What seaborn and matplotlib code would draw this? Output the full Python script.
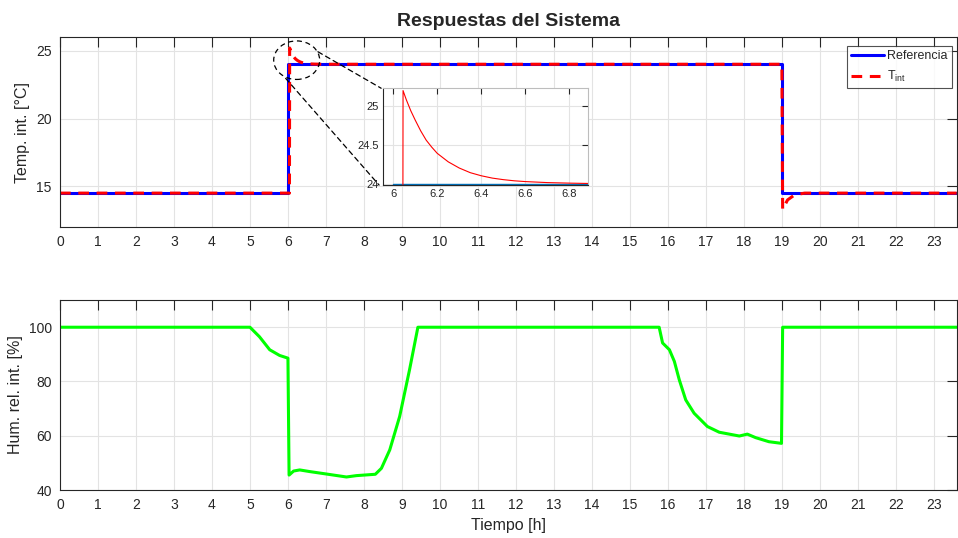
import numpy as np
import pandas as pd
import seaborn as sns
import matplotlib.pyplot as plt
from matplotlib.patches import Ellipse, ConnectionPatch

# Reference temperature (step set-point)
ref_t = [0, 6.0, 6.0, 19.0, 19.0, 23.6]
ref_T = [14.5, 14.5, 24.0, 24.0, 14.5, 14.5]

# Interior temperature
tint_t = [0, 6.04, 6.045, 6.06, 6.08, 6.1, 6.125, 6.15, 6.175, 6.2, 6.25, 6.3, 6.35, 6.4,
          6.45, 6.5, 6.55, 6.6, 6.7, 6.8, 6.9,
          19.0, 19.02, 19.15, 19.3, 19.45, 19.6, 23.6]
tint_T = [14.5, 14.5, 25.2, 25.08, 24.94, 24.82, 24.68, 24.56, 24.47, 24.39, 24.28, 24.2, 24.14, 24.1,
          24.07, 24.05, 24.035, 24.025, 24.012, 24.005, 24.0,
          24.0, 13.3, 14.0, 14.3, 14.43, 14.5, 14.5]

# Interior relative humidity
hum_t = [0, 5.0, 5.25, 5.52, 5.78, 6.0, 6.03, 6.15, 6.31, 6.57, 7.01, 7.54, 7.80, 8.30,
         8.46, 8.68, 8.94, 9.2, 9.42, 15.77, 15.86, 16.04, 16.17, 16.30, 16.47, 16.69,
         17.04, 17.35, 17.88, 18.09, 18.31, 18.66, 18.99, 19.02, 23.6]
hum_H = [100, 100, 96.5, 91.7, 89.6, 88.6, 45.5, 47.0, 47.4, 46.8, 45.9, 44.8, 45.3, 45.8,
         48.0, 54.8, 67.1, 84.3, 100, 100, 94.2, 91.7, 87.4, 80.6, 73.2, 68.3,
         63.4, 61.3, 59.9, 60.6, 59.3, 57.8, 57.2, 100, 100]

hours = list(range(0, 24))

ref_df = pd.DataFrame({"t": ref_t, "T": ref_T})
tint_df = pd.DataFrame({"t": tint_t, "T": tint_T})
hum_df = pd.DataFrame({"t": hum_t, "H": hum_H})

sns.set_theme(style="whitegrid")
plt.rcParams["font.family"] = ["Liberation Sans", "DejaVu Sans"]
plt.rcParams["mathtext.fontset"] = "custom"
plt.rcParams["mathtext.rm"] = "Liberation Sans"


def style_axes(ax, fs=10):
    ax.set_facecolor("white")
    ax.grid(True, color="#e3e3e3", linewidth=0.8)
    for s in ax.spines.values():
        s.set_color("#262626")
        s.set_linewidth(0.8)
    ax.tick_params(direction="in", top=True, right=True, length=7, width=0.8,
                   colors="#262626", labelsize=fs, pad=6)


fig = plt.figure(figsize=(9.58, 5.38), dpi=100)
ax1 = fig.add_axes([0.0626, 0.578, 0.936, 0.353])
ax2 = fig.add_axes([0.0626, 0.0892, 0.936, 0.353])

# Top: temperatures
sns.lineplot(data=ref_df, x="t", y="T", ax=ax1, color="blue", linewidth=2.2,
             estimator=None, sort=False, label="Referencia")
sns.lineplot(data=tint_df, x="t", y="T", ax=ax1, color="red", linewidth=2.2,
             estimator=None, sort=False, label=r"T$_{\mathrm{int}}$")
ax1.lines[1].set_dashes([3.5, 2.5])
style_axes(ax1)
ax1.set_xlim(0, 23.6)
ax1.set_ylim(12, 26)
ax1.set_xticks(hours)
ax1.set_yticks([15, 20, 25])
ax1.set_xlabel("")
ax1.set_ylabel("Temp. int. [°C]", fontsize=11.5)
ax1.set_title("Respuestas del Sistema", fontsize=14, fontweight="bold", pad=8)
leg = ax1.legend(loc="upper right", bbox_to_anchor=(0.995, 0.955), fontsize=9,
                 frameon=True, fancybox=False, handlelength=2.6, borderpad=0.35,
                 labelspacing=0.55, handletextpad=0.3, borderaxespad=0.0)
leg.get_frame().set_edgecolor("#262626")
leg.get_frame().set_linewidth(0.8)

# Zoom marker ellipse
ax1.add_patch(Ellipse((6.23, 24.3), 1.21, 2.84, fill=False, edgecolor="black",
                      linestyle=(0, (4, 3)), linewidth=0.9, zorder=5))

# Inset
axin = fig.add_axes([0.400, 0.656, 0.214, 0.180])
sns.lineplot(data=ref_df, x="t", y="T", ax=axin, color="#0072BD", linewidth=1.0,
             estimator=None, sort=False, legend=False)
sns.lineplot(data=tint_df, x="t", y="T", ax=axin, color="red", linewidth=0.8,
             estimator=None, sort=False, legend=False)
style_axes(axin, fs=8)
axin.tick_params(length=4, pad=3)
for s in ["top", "right"]:
    axin.spines[s].set_color("#bdbdbd")
axin.set_xlim(5.955, 6.885)
axin.set_ylim(23.98, 25.23)
axin.set_xticks([6, 6.2, 6.4, 6.6, 6.8])
axin.set_xticklabels(["6", "6.2", "6.4", "6.6", "6.8"])
axin.set_yticks([24, 24.5, 25])
axin.set_yticklabels(["24", "24.5", "25"])
axin.set_xlabel("")
axin.set_ylabel("")

for start, end in [((6.79, 24.92), (-0.01, 1.0)), ((5.94, 22.96), (-0.02, 0.0))]:
    con = ConnectionPatch(xyA=start, coordsA=ax1.transData, xyB=end, coordsB=axin.transAxes,
                          color="black", linestyle=(0, (4, 3)), linewidth=0.9, zorder=6)
    fig.add_artist(con)

# Bottom: humidity
sns.lineplot(data=hum_df, x="t", y="H", ax=ax2, color="#00ff00", linewidth=2.2,
             estimator=None, sort=False)
style_axes(ax2)
ax2.set_xlim(0, 23.6)
ax2.set_ylim(40, 110)
ax2.set_xticks(hours)
ax2.set_yticks([40, 60, 80, 100])
ax2.set_xlabel("Tiempo [h]", fontsize=11.5)
ax2.set_ylabel("Hum. rel. int. [%]", fontsize=11.5)

fig.savefig("out.png", dpi=100)
